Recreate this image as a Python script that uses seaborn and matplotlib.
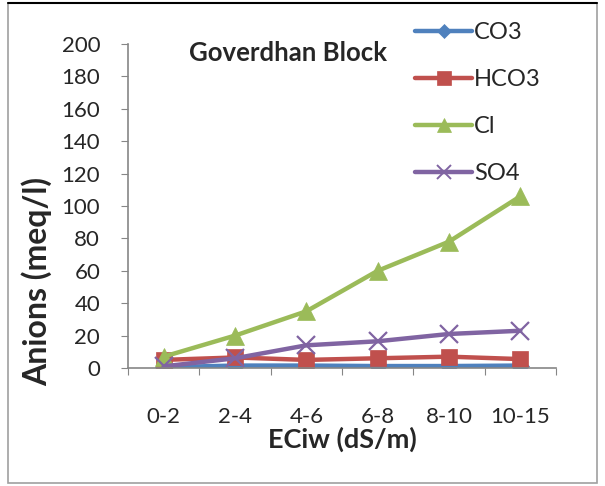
import pandas as pd
import numpy as np
import matplotlib.pyplot as plt
import seaborn as sns
from matplotlib.patches import Rectangle
from matplotlib.lines import Line2D

categorias = ['0-2', '2-4', '4-6', '6-8', '8-10', '10-15']
co3 = [0.5, 1.5, 1.5, 1.2, 1.2, 1.5]
hco3 = [5.0, 6.5, 5.0, 6.0, 7.0, 5.5]
cl = [7.0, 20.0, 35.0, 60.0, 78.0, 106.0]
so4 = [1.0, 6.0, 14.0, 16.5, 21.0, 23.0]

series = ['CO3', 'HCO3', 'Cl', 'SO4']
colores = ['#4F81BD', '#C0504D', '#9BBB59', '#8064A2']
marcadores = ['D', 's', '^', 'x']
tam_marcadores = [9, 12, 13, 13]

sns.set_style('white')
plt.rcParams['font.family'] = ['Lato', 'DejaVu Sans']

df = pd.DataFrame({
    'x': list(range(len(categorias))) * 4,
    'valor': co3 + hco3 + cl + so4,
    'serie': np.repeat(series, len(categorias)),
})

fig = plt.figure(figsize=(6.05, 4.86), dpi=100)
ax = fig.add_axes([128 / 605, 1 - 368 / 486, 428 / 605, 324 / 486])

for nombre, color, m, ms in zip(series, colores, marcadores, tam_marcadores):
    sub = df[df['serie'] == nombre]
    sns.lineplot(data=sub, x='x', y='valor', color=color, marker=m,
                 markersize=ms, linewidth=3.2, markeredgecolor=color,
                 markeredgewidth=1.6 if m == 'x' else 0.5, ax=ax, legend=False)

ax.set_xlim(-0.5, 5.5)
ax.set_ylim(0, 200)
ax.set_yticks(range(0, 201, 20))
ax.set_xticks(np.arange(-0.5, 6, 1))
ax.set_xticklabels([])
ax.set_xticks(range(len(categorias)), minor=True)
ax.set_xticklabels(categorias, minor=True)
ax.tick_params(axis='x', which='major', length=5, color='#868686', direction='out')
ax.tick_params(axis='x', which='minor', length=0, pad=28, labelsize=16)
ax.tick_params(axis='y', length=5, color='#868686', direction='out', labelsize=16, pad=15)
ax.tick_params(left=True, bottom=True)
for s in ['top', 'right']:
    ax.spines[s].set_visible(False)
for s in ['left', 'bottom']:
    ax.spines[s].set_color('#868686')
    ax.spines[s].set_linewidth(1.2)

ax.set_xlabel('ECiw (dS/m)', fontsize=19.5, fontweight='bold', labelpad=0)
ax.set_ylabel('Anions (meq/l)', fontsize=23, fontweight='bold')
ax.yaxis.set_label_coords((52 - 128) / 428, (368 - 281) / 324)
ax.text(288 / 605, 1 - 53 / 486, 'Goverdhan Block', transform=fig.transFigure,
        ha='center', va='center', fontsize=18.5, fontweight='bold')

handles = [Line2D([0], [0], color=c, marker=m, markersize=ms * 0.8, linewidth=3.2,
                  markeredgecolor=c, markeredgewidth=1.4 if m == 'x' else 0.5)
           for c, m, ms in zip(colores, marcadores, tam_marcadores)]
fig.legend(handles, series, loc='upper left', bbox_to_anchor=(394 / 605, 1 - 1 / 486),
           frameon=False, fontsize=17, handlelength=2.4, labelspacing=1.1,
           handletextpad=0.1)

fig.patches.append(Rectangle((8 / 605, 1 - 483 / 486), 589 / 605, 480 / 486,
                             transform=fig.transFigure, fill=False,
                             edgecolor='#A0A0A0', linewidth=1.2))
fig.lines.append(Line2D([8 / 605, 597 / 605], [1 - 3 / 486, 1 - 3 / 486],
                        transform=fig.transFigure, color='black', linewidth=1.5))

fig.savefig('out.png', dpi=100)
